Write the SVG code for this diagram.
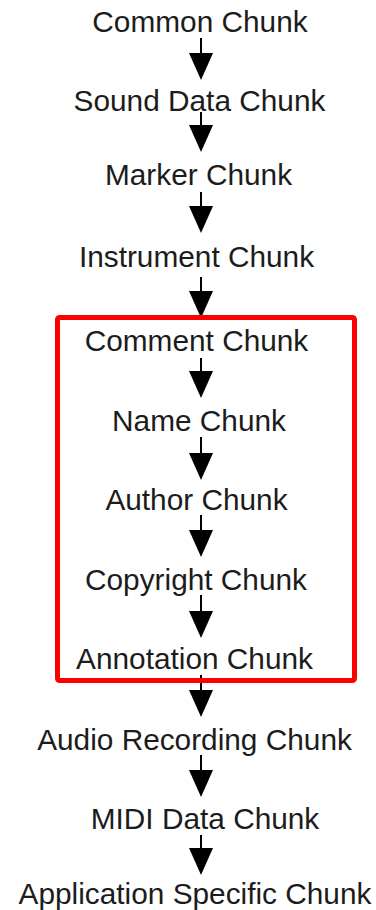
<svg xmlns="http://www.w3.org/2000/svg" width="376" height="910" viewBox="0 0 376 910">
  <style>
    .lbl { font-family: "Liberation Sans", Arial, sans-serif; font-size: 29.8px; fill: #1c1c1c; text-anchor: middle; }
    .edge { stroke: #000; stroke-width: 2; fill: none; marker-end: url(#head); }
    .group { fill: none; stroke: #ff0000; stroke-width: 5; }
  </style>
  <defs>
    <marker id="head" viewBox="0 0 27 24" refX="17" refY="12" markerWidth="27" markerHeight="24" markerUnits="userSpaceOnUse" orient="auto">
      <path d="M0,0 L27,12 L0,24 z" fill="#000"/>
    </marker>
  </defs>
  <rect width="376" height="910" fill="#fff"/>

  <g id="connectors">
    <line class="edge" x1="201" y1="38" x2="201" y2="70"/>
    <line class="edge" x1="201" y1="112" x2="201" y2="142"/>
    <line class="edge" x1="201" y1="192" x2="201" y2="223"/>
    <line class="edge" x1="201" y1="277" x2="201" y2="308"/>
    <line class="edge" x1="201" y1="358" x2="201" y2="388"/>
    <line class="edge" x1="201" y1="437" x2="201" y2="470"/>
    <line class="edge" x1="201" y1="515" x2="201" y2="547"/>
    <line class="edge" x1="201" y1="595" x2="201" y2="628"/>
    <line class="edge" x1="201" y1="675" x2="201" y2="707"/>
    <line class="edge" x1="201" y1="755" x2="201" y2="787"/>
    <line class="edge" x1="201" y1="835" x2="201" y2="865"/>
  </g>

  <g id="common"><text class="lbl" x="200" y="32">Common Chunk</text></g>
  <g id="sound-data"><text class="lbl" x="199.5" y="111">Sound Data Chunk</text></g>
  <g id="marker"><text class="lbl" x="198.5" y="185">Marker Chunk</text></g>
  <g id="instrument"><text class="lbl" x="196.5" y="267">Instrument Chunk</text></g>
  <g id="comment"><text class="lbl" x="196.5" y="351">Comment Chunk</text></g>
  <g id="name"><text class="lbl" x="199" y="431">Name Chunk</text></g>
  <g id="author"><text class="lbl" x="196.5" y="510">Author Chunk</text></g>
  <g id="copyright"><text class="lbl" x="196" y="590">Copyright Chunk</text></g>
  <g id="annotation"><text class="lbl" x="194.5" y="669">Annotation Chunk</text></g>
  <g id="audio-recording"><text class="lbl" x="194.5" y="750">Audio Recording Chunk</text></g>
  <g id="midi-data"><text class="lbl" x="205" y="829">MIDI Data Chunk</text></g>
  <g id="application-specific"><text class="lbl" x="195" y="904">Application Specific Chunk</text></g>

  <!-- text chunks grouped in the outline -->
  <g id="text-chunks"><rect class="group" x="57.5" y="317.5" width="297" height="363" rx="2"/></g>
</svg>
